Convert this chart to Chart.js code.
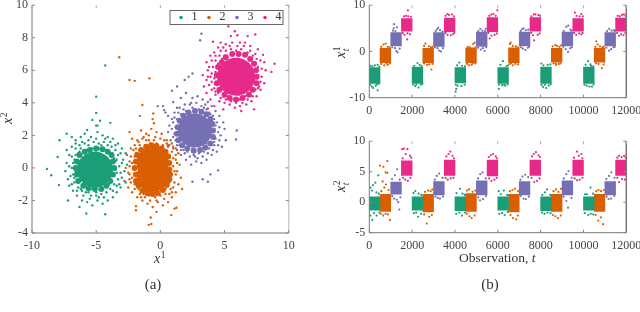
<!DOCTYPE html>
<html>
<head>
<meta charset="utf-8">
<style>
  html, body { margin: 0; background: #fff; }
  #wrap { position: relative; width: 640px; height: 312px; overflow: hidden; filter: blur(0.3px); }
  #wrap div { position: absolute; }
</style>
<script src="https://cdn.jsdelivr.net/npm/chart.js@4"></script>
</head>
<body>
<div id="wrap">
  <div style="left:0;top:-6px;width:330px;height:318px"><canvas id="scatter"></canvas></div>
  <div style="left:330px;top:-6px;width:320px;height:131px"><canvas id="top"></canvas></div>
  <div style="left:330px;top:130px;width:320px;height:182px"><canvas id="bottom"></canvas></div>
</div>
<script>
var colors = ['#1b9e77', '#d95f02', '#7570b3', '#e7298a'];
var legendLabels = ['1', '2', '3', '4'];

// left panel, solid middle of each cloud
var core1 = [[-5.1,-0.1]];
var core2 = [[-0.6,0.3],[-0.6,-0.5]];
var core3 = [[2.7,2.3]];
var core4 = [[5.9,5.6]];

// left panel, edge of the solid middle
var ring1 = [[-3.6,0],[-3.7,0.4],[-3.8,0.8],[-4.1,1],[-4.5,1.15],[-5,1.2],[-5.5,1.1],[-5.9,1],[-6.3,0.8],[-6.5,0.4],[-6.6,0],[-6.5,-0.4],[-6.4,-0.8],[-6,-1.1],[-5.6,-1.25],[-5.1,-1.3],[-4.6,-1.3],[-4.2,-1.1],[-3.9,-0.8],[-3.7,-0.4]];
var ring2 = [[0.7,-0.1],[0.7,0.3],[0.6,0.7],[0.4,1],[0.1,1.2],[-0.3,1.35],[-0.7,1.4],[-1.1,1.3],[-1.5,1.1],[-1.8,0.8],[-1.9,0.4],[-2,0],[-1.9,-0.4],[-1.9,-0.8],[-1.7,-1.1],[-1.4,-1.4],[-1,-1.55],[-0.6,-1.6],[-0.2,-1.55],[0.2,-1.35],[0.5,-1.05],[0.7,-0.7],[0.75,-0.4]];
var ring3 = [[4.1,2.3],[4.05,2.7],[3.9,3],[3.6,3.3],[3.2,3.45],[2.7,3.5],[2.2,3.4],[1.8,3.2],[1.5,2.9],[1.35,2.5],[1.3,2.1],[1.4,1.7],[1.7,1.4],[2.1,1.2],[2.6,1.05],[3.1,1.1],[3.5,1.25],[3.9,1.5],[4.1,1.9]];
var ring4 = [[7.5,5.6],[7.45,6],[7.3,6.4],[7,6.7],[6.6,6.95],[6.1,7],[5.6,7],[5.1,6.8],[4.8,6.5],[4.5,6.2],[4.4,5.7],[4.4,5.2],[4.6,4.8],[5,4.5],[5.4,4.3],[5.9,4.2],[6.4,4.3],[6.9,4.5],[7.2,4.8],[7.5,5.2]];

// left panel, loose points around the middle
var cloud1 = [[-4.3,6.3],[-5,4.38],[-5,3.38],[-5.3,2.95],[-4.7,2.9],[-3.9,2.77],[-5,2.6],[-4.9,2.6],[-5.7,2.33],[-7.3,2.1],[-8.83,-0.06],[-8.5,-0.45],[-8,0.67],[-7.85,1.7],[-7.2,-2],[-5.77,-2.8],[-6.3,-2.4],[-4.3,-2.85],[-7.9,-1.05],
  [-6.9,1.9],[-6.6,1.7],[-6.2,1.9],[-5.9,2.1],[-5.4,1.9],[-4.9,2.2],[-4.5,2],[-4.1,1.9],[-3.7,1.8],[-3.3,1.5],[-3,1.2],[-2.7,0.9],[-2.9,0.5],[-2.6,0.2],[-2.8,-0.2],[-3,-0.6],[-2.7,-0.9],[-3.1,-1.2],[-3.4,-1.5],[-3.7,-1.8],[-4.1,-2],[-4.5,-2.2],[-4.9,-2],[-5.3,-2.3],[-5.7,-2.1],[-6.1,-2],[-6.5,-1.7],[-6.8,-1.4],[-7.1,-1.1],[-7.2,-0.7],[-7.4,-0.2],[-7.3,0.3],[-7.1,0.8],[-7.3,1.1],[-6.9,1.3],
  [-6.6,1.2],[-6.3,1.4],[-5.9,1.5],[-5.6,1.4],[-5.2,1.6],[-4.8,1.5],[-4.4,1.6],[-4.1,1.4],[-3.8,1.3],[-3.5,1.1],[-3.3,0.8],[-3.5,0.4],[-3.2,0.1],[-3.4,-0.3],[-3.3,-0.7],[-3.6,-1],[-3.9,-1.3],[-4.2,-1.5],[-4.6,-1.6],[-5,-1.5],[-5.4,-1.7],[-5.8,-1.5],[-6.1,-1.4],[-6.4,-1.2],[-6.7,-0.9],[-6.8,-0.4],[-6.9,0],[-6.7,0.5],[-6.6,0.8],[-6.3,1],[-5.8,1.1],[-5.3,1.2],[-4.7,1.2],[-4.2,1.1],[-3.8,0.9],[-3.6,0.6],[-3.6,-0.5],[-4,-1],[-4.6,-1.2],[-5.3,-1.3],[-6,-1.1],[-6.4,-0.8],[-6.6,-0.2],[-6.5,0.3],
  [-6.2,1.2],[-5.6,1.7],[-5,1.8],[-4.3,1.8],[-3.9,1.6],[-3.5,1.4],[-3.1,0.9],[-3,0.3],[-3.1,-0.3],[-3.2,-1],[-3.7,-1.4],[-4.4,-1.8],[-4.8,-1.8],[-5.5,-1.9],[-6,-1.7],[-6.5,-1.4],[-6.9,-1],[-7,-0.5],[-7.1,0.1],[-6.9,0.7],[-6.6,1.5],[-6.1,1.6],[-4.6,1.4],[-3.4,0.5],[-3.5,-0.1],[-3.4,-1.1],[-5,-1.7],[-5.6,-1.5],[-6.2,-1.3],[-6.7,-0.6],[-6.8,0.3],[-6.4,0.9]];
var cloud2 = [[-3.2,6.8],[-2.4,5.4],[-2,5.35],[-0.85,5.5],[-1.4,3.87],[-1.6,3.2],[-0.55,3.35],[-0.6,3],[-0.5,2.75],[-2.4,2.2],[-0.9,-3.5],[-0.7,-3.45],[-0.75,-3.05],[0.85,-2.9],[1.1,-2.5],[1.25,-2.45],[-1.9,-2.35],[-1.9,-2.6],[-0.3,-2.7],
  [-1.5,2.3],[-1.1,2.1],[-0.7,2.4],[-0.3,2.2],[0.1,2.1],[-2.2,1.8],[-1.8,1.7],[-1.4,1.8],[-0.9,1.7],[0,1.8],[0.5,1.7],[0.9,1.5],[1.2,1.2],[1.4,0.9],[1.2,0.5],[1.5,0.2],[1.3,-0.2],[1.6,-0.6],[1.4,-1],[1.7,-1.3],[1.2,-1.5],[0.9,-1.8],[0.6,-2.1],[0.2,-2.3],[-0.2,-2.1],[-0.6,-2.4],[-1,-2.2],[-1.4,-2],[-1.8,-1.8],[-2.2,-1.5],[-2.5,-1.2],[-2.8,-0.8],[-2.4,-0.4],[-2.7,0],[-2.4,0.4],[-2.6,0.8],[-2.3,1.2],[-2,1.4],
  [-1.9,1.2],[-1.6,1.4],[-1.2,1.4],[-0.8,1.5],[-0.3,1.5],[0.2,1.4],[0.6,1.3],[0.9,1],[1,0.6],[1,0.1],[0.9,-0.4],[1.1,-0.9],[0.8,-1.3],[0.4,-1.6],[0,-1.7],[-0.4,-1.8],[-0.9,-1.7],[-1.3,-1.6],[-1.7,-1.3],[-2,-1],[-2.2,-0.6],[-2.1,-0.1],[-2.2,0.3],[-2,0.7],[-1.9,0.9],[0.7,-0.9],[0.7,0.8],[-1.8,-0.9],[-1.6,-1],[-1.1,-1.4],[-0.2,-1.4],[0.4,-1.3],[0.8,0.3],[0.5,1],[-0.5,1.3],[-1.5,1.1],
  [-1.7,1.6],[-1.3,1.9],[-0.9,2],[-0.4,1.9],[0.3,1.7],[0.7,1.4],[1,1.2],[1.2,0.8],[1.3,0.3],[1.2,-0.4],[1,-1.2],[0.7,-1.6],[0.3,-1.9],[-0.3,-2],[-0.8,-2],[-1.2,-1.8],[-1.6,-1.6],[-2,-1.3],[-2.3,-0.9],[-2.5,-0.3],[-2.4,0.1],[-2.3,0.7],[-2.1,1.1],[-1.1,1.7],[-0.5,1.7],[0.5,1.5],[1.1,-0.2],[0.9,-1.5],[-1.5,-1.8],[-2.4,-0.7]];
var cloud3 = [[3.2,8.25],[3.1,7.85],[2.5,5.8],[1.9,5.4],[2.2,5.6],[1.3,5],[0.9,4.75],[-0.2,3.8],[0.2,3.8],[0.3,3.55],[0.4,3.4],[5.95,2.3],[5.9,1.75],[4.5,-0.15],[3.3,-0.7],[3.7,-0.85],[2.5,-0.85],[0.6,1.4],[3.9,-0.4],
  [1,4.05],[1.6,4.3],[2,4.6],[2.5,4.3],[2.9,4.4],[3.3,4.2],[3.7,4.05],[4,3.8],[4.3,3.5],[4.6,3.2],[4.9,2.8],[5,2.4],[4.7,2],[5.1,1.7],[4.8,1.3],[4.4,1],[4,0.8],[3.6,0.5],[3.2,0.3],[2.8,0.4],[2.4,0.2],[2,0.5],[1.6,0.8],[1.3,1.1],[1,1.3],[0.8,1.7],[0.6,2.2],[0.7,2.6],[0.9,3],[0.6,3.2],[1.1,3.4],[1.3,3.7],
  [1.5,3.7],[1.9,3.9],[2.3,3.9],[2.8,4],[3.2,3.8],[3.6,3.6],[3.9,3.3],[4.2,3],[4.3,2.6],[4.5,2.2],[4.3,1.8],[4.2,1.4],[3.8,1.2],[3.4,1],[3,0.9],[2.6,0.8],[2.1,1],[1.8,1.1],[1.5,1.4],[1.2,1.7],[1.1,2.1],[1.2,2.5],[1.3,3],[1.6,3.3],[2,3.5],[3,3.6],[3.8,2.9],[4,2.4],[4,1.9],[3.6,1.5],[2.5,1.2],[1.7,1.7],[1.5,2.5],[1.8,3],
  [1.4,3.4],[1.8,3.6],[2.5,3.7],[3.4,3.7],[3.8,3.4],[4.1,3.2],[4.4,2.8],[4.6,2.5],[4.6,1.7],[4.5,1.4],[4.1,1.1],[3.7,0.9],[3.3,0.7],[2.9,0.6],[2.3,0.7],[1.9,0.9],[1.6,1.1],[1.3,1.4],[1,1.9],[0.9,2.4],[1,2.8],[1.1,3.1],[2.4,4],[3.5,3.9],[4.2,2.4],[4.2,1.6],[2.7,0.7],[1.5,1.9]];
var cloud4 = [[5.3,8.7],[5.8,8.4],[5.5,8.1],[6,8.15],[6.8,8.1],[7.4,8.2],[4.1,7.75],[8.9,6.4],[8.65,5.9],[4,2.9],[3.5,3.2],[3.7,3.65],[4.9,3.6],[6.3,3.5],[7.3,3.6],
  [4.7,7.7],[5.1,7.6],[5.6,7.7],[6.2,7.7],[6.6,7.7],[7,7.5],[7.6,7.3],[8,6.95],[8.1,6.5],[8.2,6],[7.9,5.6],[8.1,5.2],[7.8,4.8],[7.5,4.4],[7.1,4.1],[6.7,3.9],[6.2,3.8],[5.8,3.7],[5.4,3.9],[5,4],[4.6,4.1],[4.2,3.8],[3.9,4.2],[3.6,4.6],[3.4,5],[3.6,5.4],[3.3,5.7],[3.7,6],[3.6,6.5],[3.9,6.9],[4.2,7.1],[4.5,7.4],
  [4.7,7.2],[5.1,7.2],[5.5,7.3],[5.9,7.2],[6.3,7.3],[6.8,7.1],[7.2,6.9],[7.5,6.7],[7.6,6.2],[7.6,5.7],[7.5,5.2],[7.4,4.8],[7,4.6],[6.6,4.4],[6.2,4.2],[5.7,4.2],[5.3,4.4],[4.9,4.4],[4.5,4.6],[4.2,4.9],[4,5.3],[4,5.8],[4.1,6.2],[4.3,6.6],[4.6,6.9],[5,6.9],[6.6,6.9],[7.2,6.4],[7.3,5.4],[6.9,4.9],[6.1,4.5],[5,4.6],[4.4,5.2],[4.3,5.9],[4.5,6.4],
  [4.9,7.4],[5.4,7.5],[6,7.5],[6.5,7.5],[7,7.2],[7.4,7],[7.8,6.6],[7.9,6.1],[7.8,5.3],[7.7,5],[7.2,4.4],[6.8,4.2],[6.4,4],[5.9,4],[5.5,4.1],[5.1,4.2],[4.7,4.3],[4.3,4.5],[4,4.8],[3.8,5.1],[3.7,5.6],[3.8,6.2],[4,6.6],[4.3,6.9],[4.8,6.7],[6.2,6.95],[7.4,6.5],[7.6,4.9],[6.5,4.6],[4.2,5.5],[4.3,4.7],[3.9,5.6]];

// right panels, middle of each block of observations
var blockT1 = [250,2250,4250,6250,8250,10250];
var blockT2 = [750,2750,4750,6750,8750,10750];
var blockT3 = [1250,3250,5250,7250,9250,11250];
var blockT4 = [1750,3750,5750,7750,9750,11750];

// top panel, solid range of each block
var topLow1 = [-6.9,-6.9,-6.8,-6.9,-6.9,-6.9], topHigh1 = [-3.5,-3.4,-3.5,-3.5,-3.4,-3.4];
var topLow2 = [-2.4,-2.4,-2.4,-2.4,-2.3,-2.3], topHigh2 = [0.7,0.7,0.8,0.8,0.7,0.7];
var topLow3 = [1.2,1.1,1.1,1.2,1.2,1.2], topHigh3 = [4.1,4.1,4.2,4.2,4.2,4.1];
var topLow4 = [4.4,4.3,4.3,4.4,4.4,4.4], topHigh4 = [7.1,7.2,7.3,7.3,7.1,7.2];

// bottom panel, solid range of each block
var botLow1 = [-1.3,-1.3,-1.4,-1.3,-1.4,-1.3], botHigh1 = [0.9,0.9,0.9,0.9,0.9,0.9];
var botLow2 = [-1.5,-1.6,-1.5,-1.6,-1.5,-1.5], botHigh2 = [1.3,1.3,1.4,1.3,1.3,1.3];
var botLow3 = [1.3,1.2,1.2,1.2,1.2,1.2], botHigh3 = [3.3,3.4,3.5,3.4,3.5,3.4];
var botLow4 = [4.4,4.4,4.3,4.4,4.4,4.4], botHigh4 = [6.8,6.9,6.9,6.9,6.9,6.9];

// top panel, loose points
var topDots1 = [[40,-7.2],[120,-7.6],[180,-7.9],[300,-7.4],[390,-8.4],[350,-7.1],[440,-7],[60,-3.1],[260,-3],[390,-2.9],[470,-3.3],[150,-3.2],
  [2050,-7.2],[2150,-7.5],[2300,-7.8],[2400,-7.2],[2480,-7],[2100,-3.1],[2250,-2.5],[2350,-2.9],[2440,-3.1],[2200,-7.1],
  [4040,-7.2],[4120,-7.4],[4030,-8.7],[4060,-8.1],[4300,-7.5],[4450,-7.2],[4100,-3],[4200,-2.4],[4330,-3.1],[4470,-3.2],
  [6060,-7.2],[6050,-8.1],[6200,-7.3],[6350,-7.4],[6460,-7.1],[6120,-2.9],[6240,-2.1],[6400,-3.2],[6480,-3],[6300,-7.2],
  [8040,-7.3],[8120,-7.7],[8260,-7.9],[8380,-7.4],[8470,-7.1],[8030,-2.6],[8130,-3],[8330,-2.9],[8450,-2.8],[8200,-7.2],
  [10050,-7.2],[10150,-7.4],[10280,-7.6],[10400,-7.6],[10470,-7.1],[10100,-2.9],[10220,-2.1],[10360,-3.1],[10460,-3.2],[10320,-2.8]];
var topDots2 = [[560,-2.7],[700,-3],[860,-2.9],[950,-2.6],[560,1],[660,1.5],[760,1.7],[860,1],[950,0.9],[800,-2.6],
  [2560,-2.6],[2700,-2.9],[2900,-3.9],[2950,-2.7],[2800,-2.8],[2560,1.2],[2620,1.7],[2780,1.1],[2880,0.9],[2960,1],
  [4560,-2.7],[4660,-3],[4780,-2.9],[4950,-2.6],[4600,1],[4700,0.9],[4850,1.6],[4920,1.9],[4960,0.9],[4820,-2.6],
  [6570,-2.7],[6700,-3],[6820,-2.7],[6950,-2.8],[6560,1.6],[6600,1.9],[6700,1.2],[6850,1.1],[6950,0.9],[6630,-2.5],
  [8600,-2.6],[8730,-2.9],[8850,-2.7],[8930,-2.6],[8560,1.1],[8680,1.4],[8760,1.2],[8880,1],[8960,1.3],[8700,-2.6],
  [10580,-2.6],[10700,-2.7],[10860,-3.6],[10940,-2.8],[10560,1],[10600,2.2],[10660,1.5],[10770,1.1],[10880,0.9],[10950,1]];
var topDots3 = [[1070,0.9],[1200,0.7],[1260,0.1],[1320,-0.2],[1420,0.6],[1100,4.5],[1220,4.4],[1140,5],[1150,5.9],[1290,5.2],
  [3060,0.9],[3180,0.7],[3260,0.2],[3340,0],[3440,0.7],[3100,4.4],[3220,5.1],[3300,4.6],[3420,4.3],[3160,4.8],
  [5080,0.8],[5200,0.4],[5300,0.7],[5380,0.1],[5460,0.9],[5090,4.4],[5180,4.9],[5280,4.5],[5400,4.4],[5440,4.9],
  [7080,0.9],[7170,0.6],[7290,0.3],[7400,0.8],[7460,1],[7070,4.4],[7200,5],[7300,4.6],[7420,4.7],[7130,4.8],
  [9060,1],[9170,0.5],[9280,-0.1],[9380,0.7],[9460,0.9],[9080,4.4],[9200,5.3],[9290,5.6],[9390,4.7],[9440,4.5],
  [11070,0.8],[11190,0.2],[11290,0.5],[11400,0.9],[11460,1],[11100,4.4],[11200,4.9],[11310,4.5],[11420,4.6],[11460,4.4]];
var topDots4 = [[1560,4],[1640,3.6],[1780,3.9],[1900,3.7],[1770,2.6],[1800,8.9],[1620,7.6],[1720,7.7],[1820,7.6],[1950,7.5],
  [3560,4],[3650,3.6],[3800,3.5],[3900,3.7],[3970,4],[3560,7.7],[3640,8.1],[3720,7.9],[3860,8],[3950,7.6],
  [5560,4],[5620,2.8],[5700,3.4],[5850,3.6],[5960,3.9],[5600,7.7],[5700,8],[5800,8.1],[5900,7.7],[5980,8.9],
  [7560,4],[7640,3.5],[7700,2.4],[7860,3.6],[7950,3.9],[7570,7.6],[7680,8],[7760,8],[7900,7.9],[7970,7.7],
  [9560,4],[9660,3.6],[9800,3.9],[9900,3.7],[9960,4],[9600,8.4],[9680,7.7],[9820,7.6],[9900,8.1],[9970,7.6],
  [11570,4],[11660,3.4],[11760,3.7],[11870,3.5],[11960,4],[11600,7.7],[11700,7.6],[11800,7.9],[11890,8],[11970,7.7]];

// bottom panel, loose points
var botDots1 = [[420,4.4],[280,3.2],[170,2.8],[60,2.4],[130,1.9],[330,1.6],[440,1.4],[50,-2.2],[140,-2.9],[220,-1.8],[340,-2.2],[470,-1.7],
  [2060,1.5],[2150,1.8],[2300,1.4],[2430,1.2],[2080,-1.8],[2190,-1.7],[2280,-2.4],[2420,-1.9],
  [4070,1.5],[4240,2.2],[4350,1.4],[4460,1.2],[4060,-1.9],[4200,-1.7],[4330,-2.2],[4470,-1.7],
  [6040,1.8],[6140,1.3],[6280,1.9],[6440,1.2],[6070,-1.9],[6200,-1.8],[6320,-2.1],[6470,-1.6],
  [8080,1.2],[8200,1.6],[8300,2.1],[8450,1.2],[8060,-1.7],[8180,-1.9],[8320,-1.7],[8460,-1.8],
  [10070,1.3],[10170,1.3],[10330,2.4],[10450,1.4],[10060,-1.8],[10220,-2.1],[10340,-1.9],[10460,-2]];
var botDots2 = [[840,6.75],[500,6],[660,5.8],[760,4.9],[840,4.8],[620,3.4],[780,2.9],[700,2.4],[900,2],[560,1.8],[540,-1.9],[650,-2.2],[760,-1.9],[870,-2],[960,-2.9],
  [2600,1.7],[2740,1.9],[2860,1.8],[2950,2.1],[2560,-2],[2680,-3.5],[2800,-2.4],[2920,-2.1],
  [4560,1.9],[4660,2.1],[4820,1.7],[4950,1.9],[4560,-1.9],[4680,-2.3],[4780,-2.6],[4920,-2.2],
  [6560,1.8],[6680,2],[6800,2.2],[6950,1.8],[6590,-2.1],[6710,-2.6],[6860,-2.8],[6940,-2.2],
  [8600,1.8],[8720,2.1],[8830,1.7],[8950,2.2],[8570,-2.1],[8690,-2.3],[8810,-2.6],[8940,-2.2],
  [10600,1.8],[10700,2],[10820,1.8],[10950,2],[10570,-2.1],[10690,-3],[10810,-2.5],[10920,-3.6]];
var botDots3 = [[1060,3.8],[1200,4.4],[1300,5.4],[1420,3.7],[1070,1],[1160,0.6],[1280,0.4],[1400,-1.2],[1450,0.8],[1350,0],
  [3060,3.7],[3150,4.3],[3260,4.7],[3420,4],[3090,0.9],[3200,0.7],[3300,0.6],[3440,0.9],
  [5080,3.9],[5180,4.6],[5290,4.9],[5440,3.9],[5090,0.8],[5170,0.3],[5310,0.5],[5450,1],
  [7060,3.7],[7150,4.2],[7280,4.5],[7420,4.1],[7070,1],[7200,0.6],[7300,0.5],[7450,0.9],
  [9080,3.9],[9200,4.6],[9300,5.1],[9450,4],[9070,0.9],[9200,0.2],[9280,-0.9],[9440,0.7],
  [11070,3.8],[11190,4.3],[11300,4.9],[11450,4],[11080,0.9],[11170,0.5],[11290,0.6],[11440,1]];
var botDots4 = [[1540,8.7],[1620,8.8],[1700,7.9],[1780,8.7],[1900,7.6],[1560,7.2],[1960,7.3],[1580,4],[1680,3.7],[1800,3.5],[1920,4],
  [3600,7.5],[3700,7.9],[3780,8.3],[3880,7.6],[3950,7.2],[3560,4],[3660,3.7],[3800,3.9],[3930,4],
  [5580,7.4],[5680,7.7],[5780,7.9],[5900,7.5],[5960,7.2],[5600,3.9],[5700,3.5],[5840,3.7],[5950,4],
  [7600,7.5],[7680,7.9],[7780,8.2],[7900,7.7],[7970,7.4],[7580,4],[7700,3.3],[7830,3.5],[7950,3.9],
  [9560,7.3],[9700,8.3],[9780,7.6],[9900,7.9],[9950,7.2],[9590,3.9],[9700,3.6],[9820,3.7],[9950,4],
  [11580,7.3],[11660,7.6],[11780,7.4],[11900,7.6],[11970,7.3],[11580,4],[11660,3.3],[11800,3.8],[11930,3.7]];

var serif = '"Liberation Serif", serif';

function tickFont() { return { family: serif, size: 12 }; }

function xy(list) {
  return list.map(function (p) { return { x: p[0], y: p[1] }; });
}

function scatterSet(list, color, radius) {
  return { type: 'scatter', data: xy(list), backgroundColor: color, borderWidth: 0, pointRadius: radius, pointHoverRadius: radius };
}

function blockSet(times, low, high, color) {
  return {
    type: 'bar', backgroundColor: color, barThickness: 10.7, grouped: false, borderWidth: 0,
    data: times.map(function (t, i) { return { x: t, y: [low[i], high[i]] }; })
  };
}

function scriptText(ctx, x, y, base, sup, sub) {
  ctx.fillStyle = '#333';
  ctx.textAlign = 'left';
  ctx.textBaseline = 'alphabetic';
  ctx.font = 'italic 14px ' + serif;
  ctx.fillText(base, x, y);
  var w = ctx.measureText(base).width;
  ctx.font = '9.5px ' + serif;
  ctx.fillText(sup, x + w + 0.5, y - 5);
  if (sub) {
    ctx.font = 'italic 9.5px ' + serif;
    ctx.fillText(sub, x + w + 0.5, y + 3.5);
  }
}

// inner ticks and spines, plus the axis words
function framePlugin(o) {
  return {
    id: 'frame',
    afterDraw: function (chart) {
      var ctx = chart.ctx, a = chart.chartArea, sx = chart.scales.x, sy = chart.scales.y;
      ctx.save();
      ctx.lineWidth = 1;
      ctx.strokeStyle = '#777';
      ctx.beginPath();
      ctx.moveTo(a.left, a.top); ctx.lineTo(a.left, a.bottom); ctx.lineTo(a.right, a.bottom);
      ctx.stroke();
      ctx.strokeStyle = o.rightColor;
      ctx.lineWidth = o.rightWidth;
      ctx.beginPath();
      ctx.moveTo(a.right, a.top); ctx.lineTo(a.right, a.bottom);
      ctx.stroke();
      ctx.lineWidth = 1;
      sx.ticks.forEach(function (t) {
        var p = sx.getPixelForValue(t.value);
        ctx.strokeStyle = '#aaa';
        ctx.beginPath(); ctx.moveTo(p, a.top); ctx.lineTo(p, a.top + 3); ctx.stroke();
        ctx.strokeStyle = '#888';
        ctx.beginPath(); ctx.moveTo(p, a.bottom); ctx.lineTo(p, a.bottom - 3); ctx.stroke();
      });
      sy.ticks.forEach(function (t) {
        var p = sy.getPixelForValue(t.value);
        ctx.strokeStyle = '#888';
        ctx.beginPath(); ctx.moveTo(a.left, p); ctx.lineTo(a.left + 3, p); ctx.stroke();
        ctx.beginPath(); ctx.moveTo(a.right, p); ctx.lineTo(a.right - 3, p); ctx.stroke();
      });
      ctx.translate(0, o.shift);
      if (o.draw) o.draw(ctx, chart);
      ctx.restore();
    }
  };
}

function options(xMin, xMax, xStep, yMin, yMax, yStep, padding, yWidth, xHeight) {
  return {
    responsive: false,
    animation: false,
    layout: { padding: padding, autoPadding: false },
    plugins: { legend: { display: false }, tooltip: { enabled: false } },
    scales: {
      x: {
        type: 'linear', min: xMin, max: xMax, offset: false,
        grid: { display: false, drawTicks: false, tickLength: 0 }, border: { display: false },
        afterFit: function (s) { s.height = xHeight; },
        ticks: { stepSize: xStep, maxRotation: 0, autoSkip: false, font: tickFont(), color: '#444', padding: 6, callback: function (v) { return String(v); } }
      },
      y: {
        type: 'linear', min: yMin, max: yMax,
        grid: { display: false, drawTicks: false, tickLength: 0 }, border: { display: false },
        afterFit: function (s) { s.width = yWidth; },
        ticks: { stepSize: yStep, font: tickFont(), color: '#444', padding: 4, callback: function (v) { return String(v); } }
      }
    }
  };
}

function setSize(id, w, h) {
  var c = document.getElementById(id);
  c.width = w; c.height = h;
  return c;
}

new Chart(setSize('scatter', 330, 318), {
  type: 'scatter',
  data: {
    datasets: [
      scatterSet(core1, colors[0], 18), scatterSet(ring1, colors[0], 3), scatterSet(cloud1, colors[0], 1.2),
      scatterSet(core2, colors[1], 16), scatterSet(ring2, colors[1], 3), scatterSet(cloud2, colors[1], 1.2),
      scatterSet(core3, colors[2], 17), scatterSet(ring3, colors[2], 3), scatterSet(cloud3, colors[2], 1.2),
      scatterSet(core4, colors[3], 19), scatterSet(ring4, colors[3], 3), scatterSet(cloud4, colors[3], 1.2)
    ]
  },
  options: options(-10, 10, 5, -4, 10, 2, { top: 4, right: 41.3, bottom: 57, left: 0 }, 32, 22),
  plugins: [framePlugin({
    shift: 6, rightColor: '#ccc', rightWidth: 1.5,
    draw: function (ctx) {
      scriptText(ctx, 154, 263, 'x', '1');
      ctx.save();
      ctx.translate(12, 124); ctx.rotate(-Math.PI / 2);
      scriptText(ctx, 0, 0, 'x', '2');
      ctx.restore();
      ctx.fillStyle = '#333'; ctx.textAlign = 'center'; ctx.textBaseline = 'middle';
      ctx.font = '15px ' + serif;
      ctx.fillText('(a)', 153, 285);
      // legend box
      ctx.fillStyle = '#fff'; ctx.fillRect(170, 10.5, 113, 14);
      ctx.strokeStyle = '#666'; ctx.lineWidth = 1; ctx.strokeRect(170, 10.5, 113, 14);
      var marks = [181, 209, 237, 265];
      legendLabels.forEach(function (lab, i) {
        ctx.fillStyle = colors[i];
        ctx.beginPath(); ctx.arc(marks[i], 17.5, 1.8, 0, 2 * Math.PI); ctx.fill();
        ctx.fillStyle = '#333'; ctx.textAlign = 'center'; ctx.textBaseline = 'middle';
        ctx.font = '12px ' + serif;
        ctx.fillText(lab, marks[i] + 13.5, 17);
      });
    }
  })]
});

new Chart(setSize('top', 320, 131), {
  data: {
    datasets: [
      blockSet(blockT1, topLow1, topHigh1, colors[0]), blockSet(blockT2, topLow2, topHigh2, colors[1]),
      blockSet(blockT3, topLow3, topHigh3, colors[2]), blockSet(blockT4, topLow4, topHigh4, colors[3]),
      scatterSet(topDots1, colors[0], 1.1), scatterSet(topDots2, colors[1], 1.1),
      scatterSet(topDots3, colors[2], 1.1), scatterSet(topDots4, colors[3], 1.1)
    ]
  },
  options: options(0, 12000, 2000, -10, 10, 10, { top: 4, right: 23.7, bottom: 5.3, left: 0 }, 39.3, 22),
  plugins: [framePlugin({
    shift: 6, rightColor: '#777', rightWidth: 1.5,
    draw: function (ctx) {
      ctx.save();
      ctx.translate(15, 58); ctx.rotate(-Math.PI / 2);
      scriptText(ctx, 0, 0, 'x', '1', 't');
      ctx.restore();
    }
  })]
});

new Chart(setSize('bottom', 320, 182), {
  data: {
    datasets: [
      blockSet(blockT1, botLow1, botHigh1, colors[0]), blockSet(blockT2, botLow2, botHigh2, colors[1]),
      blockSet(blockT3, botLow3, botHigh3, colors[2]), blockSet(blockT4, botLow4, botHigh4, colors[3]),
      scatterSet(botDots1, colors[0], 1.1), scatterSet(botDots2, colors[1], 1.1),
      scatterSet(botDots3, colors[2], 1.1), scatterSet(botDots4, colors[3], 1.1)
    ]
  },
  options: options(0, 12000, 2000, -5, 10, 5, { top: 4, right: 23.7, bottom: 57.3, left: 0 }, 39.3, 22),
  plugins: [framePlugin({
    shift: 0, rightColor: '#777', rightWidth: 1.5,
    draw: function (ctx) {
      ctx.save();
      ctx.translate(15, 62); ctx.rotate(-Math.PI / 2);
      scriptText(ctx, 0, 0, 'x', '2', 't');
      ctx.restore();
      ctx.fillStyle = '#333'; ctx.textAlign = 'left'; ctx.textBaseline = 'middle';
      ctx.font = '13.5px ' + serif;
      ctx.fillText('Observation, ', 129, 128);
      var w = ctx.measureText('Observation, ').width;
      ctx.font = 'italic 13.5px ' + serif;
      ctx.fillText('t', 129 + w, 128);
      ctx.textAlign = 'center';
      ctx.font = '15px ' + serif;
      ctx.fillText('(b)', 160, 155);
    }
  })]
});
</script>
</body>
</html>
